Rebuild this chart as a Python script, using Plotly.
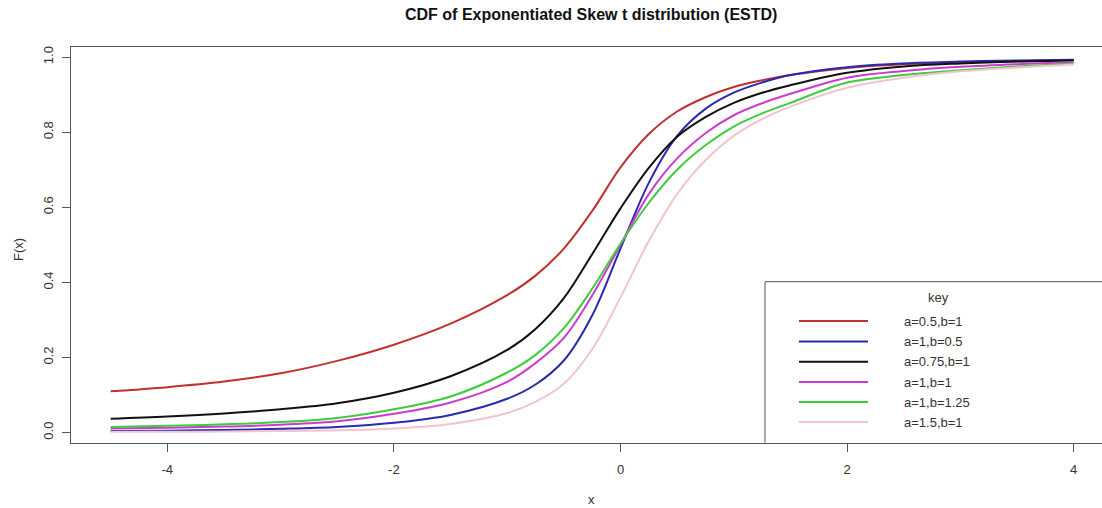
import plotly.graph_objects as go

# ---- data ----
x_vals = [-4.5, -4, -3.5, -3, -2.5, -2, -1.5, -1, -0.75, -0.5, -0.25, 0,
          0.25, 0.5, 0.75, 1, 1.25, 1.5, 2, 2.5, 3, 3.5, 4]

red_a05_b1 = [0.110, 0.121, 0.136, 0.158, 0.191, 0.234, 0.290, 0.366, 0.418, 0.490, 0.590, 0.706,
              0.795, 0.855, 0.893, 0.920, 0.938, 0.952, 0.971, 0.981, 0.986, 0.989, 0.992]
blue_a1_b05 = [0.004, 0.005, 0.007, 0.010, 0.015, 0.026, 0.047, 0.090, 0.128, 0.192, 0.312, 0.490,
               0.665, 0.790, 0.862, 0.905, 0.932, 0.952, 0.973, 0.983, 0.988, 0.991, 0.993]
black_a075_b1 = [0.037, 0.043, 0.051, 0.062, 0.078, 0.106, 0.150, 0.220, 0.276, 0.358, 0.475, 0.597,
                 0.705, 0.788, 0.840, 0.878, 0.905, 0.925, 0.958, 0.975, 0.983, 0.988, 0.991]
magenta_a1_b1 = [0.011, 0.013, 0.016, 0.021, 0.030, 0.050, 0.080, 0.135, 0.185, 0.252, 0.365, 0.500,
                 0.635, 0.730, 0.797, 0.845, 0.877, 0.902, 0.945, 0.963, 0.974, 0.981, 0.986]
green_a1_b125 = [0.015, 0.018, 0.022, 0.028, 0.039, 0.062, 0.096, 0.160, 0.207, 0.278, 0.383, 0.503,
                 0.612, 0.700, 0.765, 0.815, 0.850, 0.878, 0.932, 0.952, 0.965, 0.975, 0.983]
pink_a15_b1 = [0.002, 0.002, 0.003, 0.004, 0.006, 0.011, 0.023, 0.052, 0.082, 0.130, 0.222, 0.360,
               0.510, 0.635, 0.725, 0.790, 0.835, 0.868, 0.918, 0.945, 0.962, 0.972, 0.980]

series_names = ["a=0.5,b=1", "a=1,b=0.5", "a=0.75,b=1", "a=1,b=1", "a=1,b=1.25", "a=1.5,b=1"]
series_values = [red_a05_b1, blue_a1_b05, black_a075_b1, magenta_a1_b1, green_a1_b125, pink_a15_b1]
series_colors = ["#C0302F", "#2A2AB0", "#111111", "#CC3CCC", "#3CCC3C", "#F2C4CE"]

x_ticks = [-4, -2, 0, 2, 4]
y_ticks = [0.0, 0.2, 0.4, 0.6, 0.8, 1.0]
y_tick_text = ["0.0", "0.2", "0.4", "0.6", "0.8", "1.0"]

title_text = "CDF of Exponentiated Skew t distribution (ESTD)"
legend_title = "key"

# ---- layout geometry (pixels) ----
W, H = 1102, 508
L, T, B = 71, 47, 65
plot_w = W - L
plot_h = H - T - B
FONT = "Liberation Sans, Arial, sans-serif"
AXIS_COL = "#555555"


def px(x):
    return (x - L) / plot_w


def py(y):
    return (H - B - y) / plot_h


fig = go.Figure()
for name, vals, col in zip(series_names, series_values, series_colors):
    fig.add_trace(go.Scatter(x=x_vals, y=vals, mode="lines", name=name,
                             line=dict(color=col, width=2, shape="spline", smoothing=1.0),
                             showlegend=False, hoverinfo="skip"))

fig.update_layout(
    width=W, height=H,
    margin=dict(l=L, r=0, t=T, b=B),
    paper_bgcolor="white", plot_bgcolor="white",
    font=dict(family=FONT, size=13, color="#333333"),
    showlegend=False,
)
fig.update_xaxes(range=[-4.85, 4.25], tickvals=x_ticks, ticktext=[str(v) for v in x_ticks],
                 showgrid=False, zeroline=False, showline=True, linecolor=AXIS_COL, linewidth=1,
                 mirror=True, ticks="outside", ticklen=8, tickcolor=AXIS_COL,
                 tickfont=dict(family=FONT, size=13, color="#333333"), ticklabelstandoff=6)
fig.update_yaxes(range=[-0.0277, 1.0267], tickvals=y_ticks, ticktext=y_tick_text, tickangle=-90,
                 showgrid=False, zeroline=False, showline=True, linecolor=AXIS_COL, linewidth=1,
                 ticks="outside", ticklen=8, tickcolor=AXIS_COL,
                 tickfont=dict(family=FONT, size=13, color="#333333"), ticklabelstandoff=4)

annotations = [
    dict(text="<b>" + title_text + "</b>", x=px(591), y=py(15), xref="paper", yref="paper",
         showarrow=False, font=dict(family=FONT, size=16, color="#111111"),
         xanchor="center", yanchor="middle"),
    dict(text="x", x=px(591), y=py(499), xref="paper", yref="paper", showarrow=False,
         font=dict(family=FONT, size=13, color="#333333"), xanchor="center", yanchor="middle"),
    dict(text="F(x)", x=px(18), y=py(250), xref="paper", yref="paper", showarrow=False,
         textangle=-90, font=dict(family=FONT, size=13, color="#333333"),
         xanchor="center", yanchor="middle"),
    dict(text=legend_title, x=px(938), y=py(297), xref="paper", yref="paper", showarrow=False,
         font=dict(family=FONT, size=13, color="#333333"), xanchor="center", yanchor="middle"),
]

shapes = [
    dict(type="line", xref="paper", yref="paper", x0=px(765), x1=px(765), y0=py(442.7), y1=py(281.7),
         line=dict(color=AXIS_COL, width=1)),
    dict(type="line", xref="paper", yref="paper", x0=px(765), x1=1.0, y0=py(281.7), y1=py(281.7),
         line=dict(color=AXIS_COL, width=1)),
]

row_y = [321, 341.5, 361.8, 382, 402, 422]
for name, col, ry in zip(series_names, series_colors, row_y):
    shapes.append(dict(type="line", xref="paper", yref="paper", x0=px(799), x1=px(868),
                       y0=py(ry), y1=py(ry), line=dict(color=col, width=2)))
    annotations.append(dict(text=name, x=px(902), y=py(ry), xref="paper", yref="paper",
                            showarrow=False, font=dict(family=FONT, size=13, color="#333333"),
                            xanchor="left", yanchor="middle"))

fig.update_layout(annotations=annotations, shapes=shapes)
fig.write_html("out.html", config={"displayModeBar": False},
               post_script="document.body.style.margin='0';document.body.style.overflow='hidden';")
